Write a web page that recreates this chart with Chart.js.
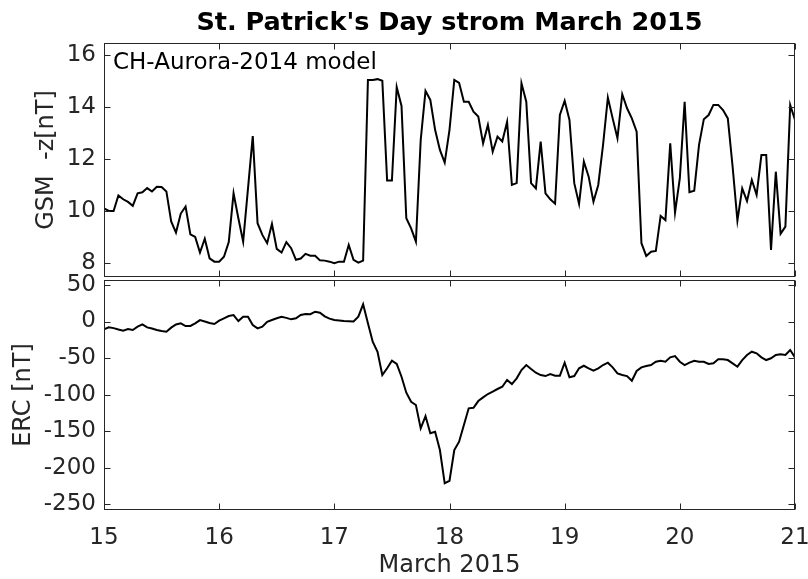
<!DOCTYPE html>
<html>
<head>
<meta charset="utf-8">
<script src="https://cdn.jsdelivr.net/npm/chart.js@4"></script>
<style>
  html, body { margin: 0; padding: 0; background: #fff; }
  #wrap { position: relative; width: 808px; height: 579px; }
  #wrap canvas { position: absolute; left: 0; top: 0; }
</style>
</head>
<body>
<div id="wrap">
  <canvas id="top" width="808" height="579"></canvas>
  <canvas id="bottom" width="808" height="579"></canvas>
</div>
<script>
// hourly samples, 15 March 00:00 .. 21 March 00:00
const gsmZ = [
  10.1, 10.0, 10.0, 10.6, 10.45, 10.35, 10.2, 10.68, 10.72, 10.88,
  10.75, 10.93, 10.92, 10.75, 9.6, 9.17, 9.9, 10.17, 9.1, 9.0,
  8.4, 8.93, 8.18, 8.05, 8.05, 8.24, 8.8, 10.68, 9.72, 8.82,
  10.85, 12.88, 9.53, 9.08, 8.76, 9.5, 8.54, 8.4, 8.8, 8.57,
  8.12, 8.17, 8.35, 8.28, 8.28, 8.1, 8.09, 8.05, 7.99, 8.05,
  8.05, 8.69, 8.12, 8.01, 8.09, 15.04, 15.04, 15.07, 15.01, 11.17,
  11.17, 14.76, 14.04, 9.72, 9.33, 8.82, 12.73, 14.62, 14.27, 13.12,
  12.35, 11.86, 13.12, 15.04, 14.93, 14.2, 14.2, 13.82, 13.63, 12.6,
  13.31, 12.28, 12.86, 12.67, 13.43, 11.0, 11.07, 14.91, 14.2, 11.07,
  10.87, 12.67, 10.68, 10.45, 10.28, 13.69, 14.24, 13.5, 11.07, 10.27,
  11.9, 11.32, 10.36, 11.0, 12.54, 14.36, 13.56, 12.8, 14.49, 13.95,
  13.56, 13.05, 8.76, 8.27, 8.43, 8.46, 9.81, 9.65, 12.6, 9.94,
  11.26, 14.2, 10.72, 10.78, 12.54, 13.53, 13.69, 14.08, 14.08, 13.88,
  13.56, 11.7, 9.63, 10.87, 10.38, 11.19, 10.62, 12.15, 12.15, 8.5,
  11.51, 9.12, 9.4, 14.08, 13.5
];

const erc = [
  -10.7, -8, -9, -11, -12.5, -10.3, -11.6, -7.1, -3.9, -8,
  -9.5, -11.6, -13, -13.9, -8.4, -4, -2.5, -6.2, -6, -2.5,
  2, 0, -2, -3.4, 1.1, 4.4, 7.5, 8.9, 0.7, 6.6,
  6.6, -4.8, -9.3, -7.1, -0.3, 2, 4.4, 6.6, 5, 3,
  4.4, 8.9, 10.3, 10, 13.4, 12, 7, 4, 2, 1.3,
  0.7, 0.3, 0, 6.6, 23.5, -2.5, -27.6, -41.3, -73.2, -64,
  -53.6, -58.1, -75.5, -97.4, -109.7, -114.2, -146.1, -129.3, -152.9, -150.7,
  -175.8, -221.3, -217.8, -175.8, -164.4, -141.6, -118.7, -117.9, -108.8, -103.7,
  -99.2, -96, -92.3, -89.2, -80, -85.5, -77.7, -66.3, -59.5, -65,
  -70, -73.2, -74.6, -72, -74, -74, -56.3, -76.3, -74.6, -64,
  -60.5, -64, -67.3, -64, -59.5, -56.3, -62.7, -70.9, -73.2, -74.6,
  -81, -67.7, -62.7, -60.9, -59.5, -55, -53.6, -55, -49, -47.2,
  -55, -59.5, -56.3, -53.6, -55, -55, -58.1, -57.2, -51.7, -51.7,
  -52.7, -57.2, -61.8, -52.7, -45.8, -41.3, -43.5, -49, -52.7, -50.3,
  -45.8, -44.9, -45.8, -39, -49
];

const dayTicks = [15, 16, 17, 18, 19, 20, 21];
const gsmTicks = [8, 10, 12, 14, 16];
const ercTicks = [-250, -200, -150, -100, -50, 0, 50];

const times = gsmZ.map((_, i) => 15 + i / 24);

const FONT = 'DejaVu Sans';
const INK = '#262626';

// MATLAB style box with inward ticks on all four sides
const frame = {
  id: 'frame',
  afterDraw(chart) {
    const { ctx, chartArea: a, scales } = chart;
    const L = Math.round(a.left) + 0.5, R = Math.round(a.right) - 0.5;
    const T = Math.round(a.top) + 0.5, B = Math.round(a.bottom) - 0.5;
    ctx.save();
    ctx.strokeStyle = INK;
    ctx.lineWidth = 1;
    ctx.strokeRect(L, T, R - L, B - T);
    ctx.beginPath();
    for (const v of dayTicks) {
      const x = Math.round(scales.x.getPixelForValue(v)) + 0.5;
      ctx.moveTo(x, T); ctx.lineTo(x, T + 6);
      ctx.moveTo(x, B); ctx.lineTo(x, B - 6);
    }
    for (const t of scales.y.ticks) {
      const y = Math.round(scales.y.getPixelForValue(t.value)) + 0.5;
      ctx.moveTo(L, y); ctx.lineTo(L + 6, y);
      ctx.moveTo(R, y); ctx.lineTo(R - 6, y);
    }
    ctx.stroke();
    ctx.restore();
  }
};

// figure title (centred on the axes, like MATLAB) and the model note
const topTexts = {
  id: 'topTexts',
  afterDraw(chart) {
    const { ctx, chartArea: a } = chart;
    ctx.save();
    ctx.fillStyle = '#000';
    ctx.textAlign = 'center';
    ctx.textBaseline = 'alphabetic';
    ctx.font = 'bold 25.5px "' + FONT + '"';
    ctx.fillText("St. Patrick's Day strom March 2015", (a.left + a.right) / 2, 30);
    ctx.textAlign = 'left';
    ctx.textBaseline = 'middle';
    ctx.font = '23px "' + FONT + '"';
    ctx.fillText('CH-Aurora-2014 model', a.left + 9, a.top + 20);
    ctx.restore();
  }
};

function yScale(min, max, ticks, title, titlePad) {
  return {
    min, max,
    afterBuildTicks: (s) => { s.ticks = ticks.map((v) => ({ value: v })); },
    afterFit: (s) => { s.width = 104; s.paddingTop = 0; s.paddingBottom = 0; },
    grid: { display: false, drawTicks: false },
    border: { display: false },
    ticks: { font: { family: FONT, size: 23 }, color: INK, padding: 8 },
    title: {
      display: true, text: title,
      font: { family: FONT, size: 24, lineHeight: 1.2 }, color: INK,
      padding: { top: titlePad, bottom: 0 }
    }
  };
}

function lineSet(values) {
  return {
    data: values.map((v, i) => ({ x: times[i], y: v })),
    borderColor: '#000',
    borderWidth: 2,
    pointRadius: 0,
    tension: 0,
    fill: false
  };
}

new Chart(document.getElementById('top'), {
  type: 'line',
  data: { datasets: [lineSet(gsmZ)] },
  options: {
    responsive: false,
    animation: false,
    devicePixelRatio: 1,
    layout: { padding: { left: 0, right: 13, top: 43, bottom: 302 } },
    plugins: { legend: { display: false }, tooltip: { enabled: false } },
    scales: {
      x: {
        type: 'linear', min: 15, max: 21, display: false,
        afterBuildTicks: (s) => { s.ticks = dayTicks.map((v) => ({ value: v })); }
      },
      y: yScale(7.46, 16.46, gsmTicks, 'GSM  -z[nT]', 32.6)
    }
  },
  plugins: [frame, topTexts]
});

new Chart(document.getElementById('bottom'), {
  type: 'line',
  data: { datasets: [lineSet(erc)] },
  options: {
    responsive: false,
    animation: false,
    devicePixelRatio: 1,
    layout: { padding: { left: 0, right: 13, top: 280, bottom: 0 } },
    plugins: { legend: { display: false }, tooltip: { enabled: false } },
    scales: {
      x: {
        type: 'linear', min: 15, max: 21,
        afterBuildTicks: (s) => { s.ticks = dayTicks.map((v) => ({ value: v })); },
        afterFit: (s) => { s.height = 69; s.paddingLeft = 0; s.paddingRight = 0; },
        grid: { display: false, drawTicks: false },
        border: { display: false },
        ticks: { font: { family: FONT, size: 23 }, color: INK, padding: 14, maxRotation: 0 },
        title: {
          display: true, text: 'March 2015',
          font: { family: FONT, size: 24, lineHeight: 1.1 }, color: INK,
          padding: { top: 0, bottom: 0 }
        }
      },
      y: yScale(-257.8, 56.8, ercTicks, 'ERC [nT]', 9.6)
    }
  },
  plugins: [frame]
});
</script>
</body>
</html>
